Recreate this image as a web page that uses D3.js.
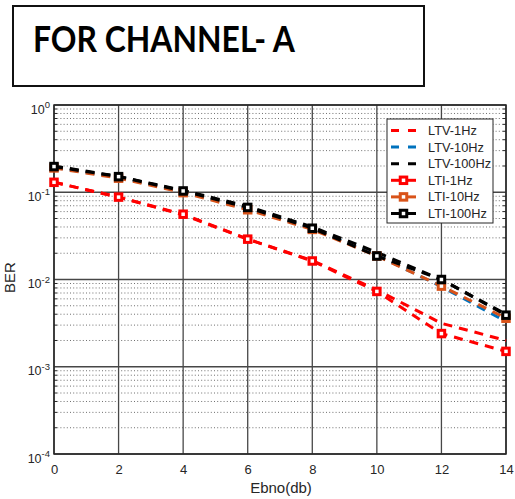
<!DOCTYPE html>
<html>
<head>
<meta charset="utf-8">
<script src="https://cdn.jsdelivr.net/npm/d3@7"></script>
<style>
  html, body { margin: 0; padding: 0; background: #fff; }
  svg { display: block; }
</style>
</head>
<body>
<svg id="chart" width="515" height="499"></svg>
<script>
// Eb/N0 sample points (dB)
const ebno = [0, 2, 4, 6, 8, 10, 12, 14];

// Bit error rates per channel model / Doppler rate
const ltv1Hz   = [0.130, 0.088, 0.055, 0.029, 0.0165, 0.0076, 0.00315, 0.0020];
const ltv10Hz  = [0.193, 0.148, 0.101, 0.065, 0.0385, 0.0190, 0.0083, 0.0033];
const ltv100Hz = [0.200, 0.152, 0.105, 0.069, 0.0400, 0.0205, 0.0100, 0.0040];
const lti1Hz   = [0.130, 0.088, 0.056, 0.029, 0.0163, 0.0073, 0.0024, 0.0015];
const lti10Hz  = [0.190, 0.145, 0.099, 0.063, 0.0375, 0.0186, 0.0084, 0.0036];
const lti100Hz = [0.197, 0.151, 0.1035, 0.067, 0.0387, 0.0186, 0.0100, 0.0039];

const seriesNames  = ["LTV-1Hz", "LTV-10Hz", "LTV-100Hz", "LTI-1Hz", "LTI-10Hz", "LTI-100Hz"];
const seriesValues = [ltv1Hz, ltv10Hz, ltv100Hz, lti1Hz, lti10Hz, lti100Hz];
const seriesColors = ["#ff0000", "#0072bd", "#000000", "#ff0000", "#d95319", "#000000"];
const seriesMarked = [false, false, false, true, true, true];

const xTicks = [0, 2, 4, 6, 8, 10, 12, 14];
const yDecades = [0, -1, -2, -3, -4];

const titleText = "FOR CHANNEL- A";
const xLabel = "Ebno(db)";
const yLabel = "BER";

(function draw() {
  const svg = d3.select("#chart");
  const font = "'Liberation Sans', Arial, Helvetica, sans-serif";

  // ---- title box ----
  svg.append("rect")
    .attr("x", 13).attr("y", 6).attr("width", 411).attr("height", 80)
    .attr("fill", "#fff").attr("stroke", "#111").attr("stroke-width", 2);
  svg.append("text")
    .attr("x", 33).attr("y", 52)
    .attr("font-family", "Lato, 'Open Sans', sans-serif")
    .attr("font-weight", "bold")
    .attr("font-size", 37)
    .attr("textLength", 262)
    .attr("lengthAdjust", "spacingAndGlyphs")
    .attr("fill", "#000")
    .text(titleText);

  // ---- scales ----
  const pl = 54, pr = 506, pt = 105, pb = 454;
  const x = d3.scaleLinear().domain([0, 14]).range([pl, pr]);
  const y = d3.scaleLog().domain([1e-4, 1]).range([pb, pt]);

  const grid = svg.append("g");

  // minor (dotted) horizontal grid
  const minorVals = [];
  for (let e = -4; e < 0; e++) for (let m = 2; m <= 9; m++) minorVals.push(m * Math.pow(10, e));
  grid.selectAll("line.minor").data(minorVals).enter().append("line")
    .attr("x1", pl).attr("x2", pr)
    .attr("y1", d => y(d)).attr("y2", d => y(d))
    .attr("stroke", "#6e6e6e").attr("stroke-width", 1)
    .attr("stroke-dasharray", "1,2.2");

  // major grid
  grid.selectAll("line.vmaj").data(xTicks).enter().append("line")
    .attr("x1", d => x(d)).attr("x2", d => x(d))
    .attr("y1", pt).attr("y2", pb)
    .attr("stroke", "#474747").attr("stroke-width", 1.3);
  grid.selectAll("line.hmaj").data(yDecades).enter().append("line")
    .attr("x1", pl).attr("x2", pr)
    .attr("y1", d => y(Math.pow(10, d))).attr("y2", d => y(Math.pow(10, d)))
    .attr("stroke", "#474747").attr("stroke-width", 1.3);

  // inward minor ticks on left and right
  grid.selectAll("line.mtl").data(minorVals).enter().append("line")
    .attr("x1", pl).attr("x2", pl + 3)
    .attr("y1", d => y(d)).attr("y2", d => y(d))
    .attr("stroke", "#262626");
  grid.selectAll("line.mtr").data(minorVals).enter().append("line")
    .attr("x1", pr - 3).attr("x2", pr)
    .attr("y1", d => y(d)).attr("y2", d => y(d))
    .attr("stroke", "#262626");

  // axes frame
  svg.append("rect")
    .attr("x", pl).attr("y", pt).attr("width", pr - pl).attr("height", pb - pt)
    .attr("fill", "none").attr("stroke", "#262626").attr("stroke-width", 1.5);

  // x tick labels via d3 axis
  const xAxis = svg.append("g")
    .attr("transform", `translate(0,${pb})`)
    .call(d3.axisBottom(x).tickValues(xTicks).tickSize(0).tickPadding(11).tickFormat(d3.format("d")));
  xAxis.select(".domain").remove();
  xAxis.selectAll("text")
    .attr("font-family", font).attr("font-size", 13).attr("fill", "#262626");

  // y tick labels: 10^k
  const yLab = svg.append("g");
  yDecades.forEach(k => {
    const t = yLab.append("text")
      .attr("x", 50).attr("y", y(Math.pow(10, k)) + 8.5)
      .attr("text-anchor", "end")
      .attr("font-family", font).attr("font-size", 12.5).attr("fill", "#262626");
    t.append("tspan").text("10");
    t.append("tspan").attr("dy", -5.5).attr("font-size", 9.5).text(String(k));
  });

  // axis labels
  svg.append("text")
    .attr("x", (pl + pr) / 2 + 1).attr("y", 493)
    .attr("text-anchor", "middle")
    .attr("font-family", font).attr("font-size", 15).attr("fill", "#262626")
    .text(xLabel);
  svg.append("text")
    .attr("transform", `translate(15,${(pt + pb) / 2 - 2}) rotate(-90)`)
    .attr("text-anchor", "middle")
    .attr("font-family", font).attr("font-size", 15).attr("fill", "#262626")
    .text(yLabel);

  // ---- series ----
  const plot = svg.append("g");
  const line = d3.line().x((d, i) => x(ebno[i])).y(d => y(d));
  const dash = "9,7";
  const markerSide = 6.5;

  seriesValues.forEach((vals, si) => {
    plot.append("path")
      .attr("d", line(vals))
      .attr("fill", "none")
      .attr("stroke", seriesColors[si])
      .attr("stroke-width", 3)
      .attr("stroke-dasharray", dash);
    if (seriesMarked[si]) {
      plot.selectAll(null).data(vals).enter().append("rect")
        .attr("x", (d, i) => x(ebno[i]) - markerSide / 2)
        .attr("y", d => y(d) - markerSide / 2)
        .attr("width", markerSide).attr("height", markerSide)
        .attr("fill", "#fff")
        .attr("stroke", seriesColors[si])
        .attr("stroke-width", 3);
    }
  });

  // ---- legend ----
  const lg = svg.append("g");
  lg.append("rect")
    .attr("x", 387).attr("y", 119).attr("width", 106).attr("height", 104)
    .attr("fill", "#fff").attr("stroke", "#262626").attr("stroke-width", 1);
  seriesNames.forEach((name, si) => {
    const cy = 130.5 + si * 16.6;
    lg.append("line")
      .attr("x1", 391).attr("x2", 416).attr("y1", cy).attr("y2", cy)
      .attr("stroke", seriesColors[si]).attr("stroke-width", 3)
      .attr("stroke-dasharray", seriesMarked[si] ? null : "8,9");
    if (seriesMarked[si]) {
      lg.append("rect")
        .attr("x", 403.5 - markerSide / 2).attr("y", cy - markerSide / 2)
        .attr("width", markerSide).attr("height", markerSide)
        .attr("fill", "#fff").attr("stroke", seriesColors[si]).attr("stroke-width", 3);
    }
    lg.append("text")
      .attr("x", 428).attr("y", cy + 4.5)
      .attr("font-family", font).attr("font-size", 12.8).attr("fill", "#262626")
      .text(name);
  });
})();
</script>
</body>
</html>
